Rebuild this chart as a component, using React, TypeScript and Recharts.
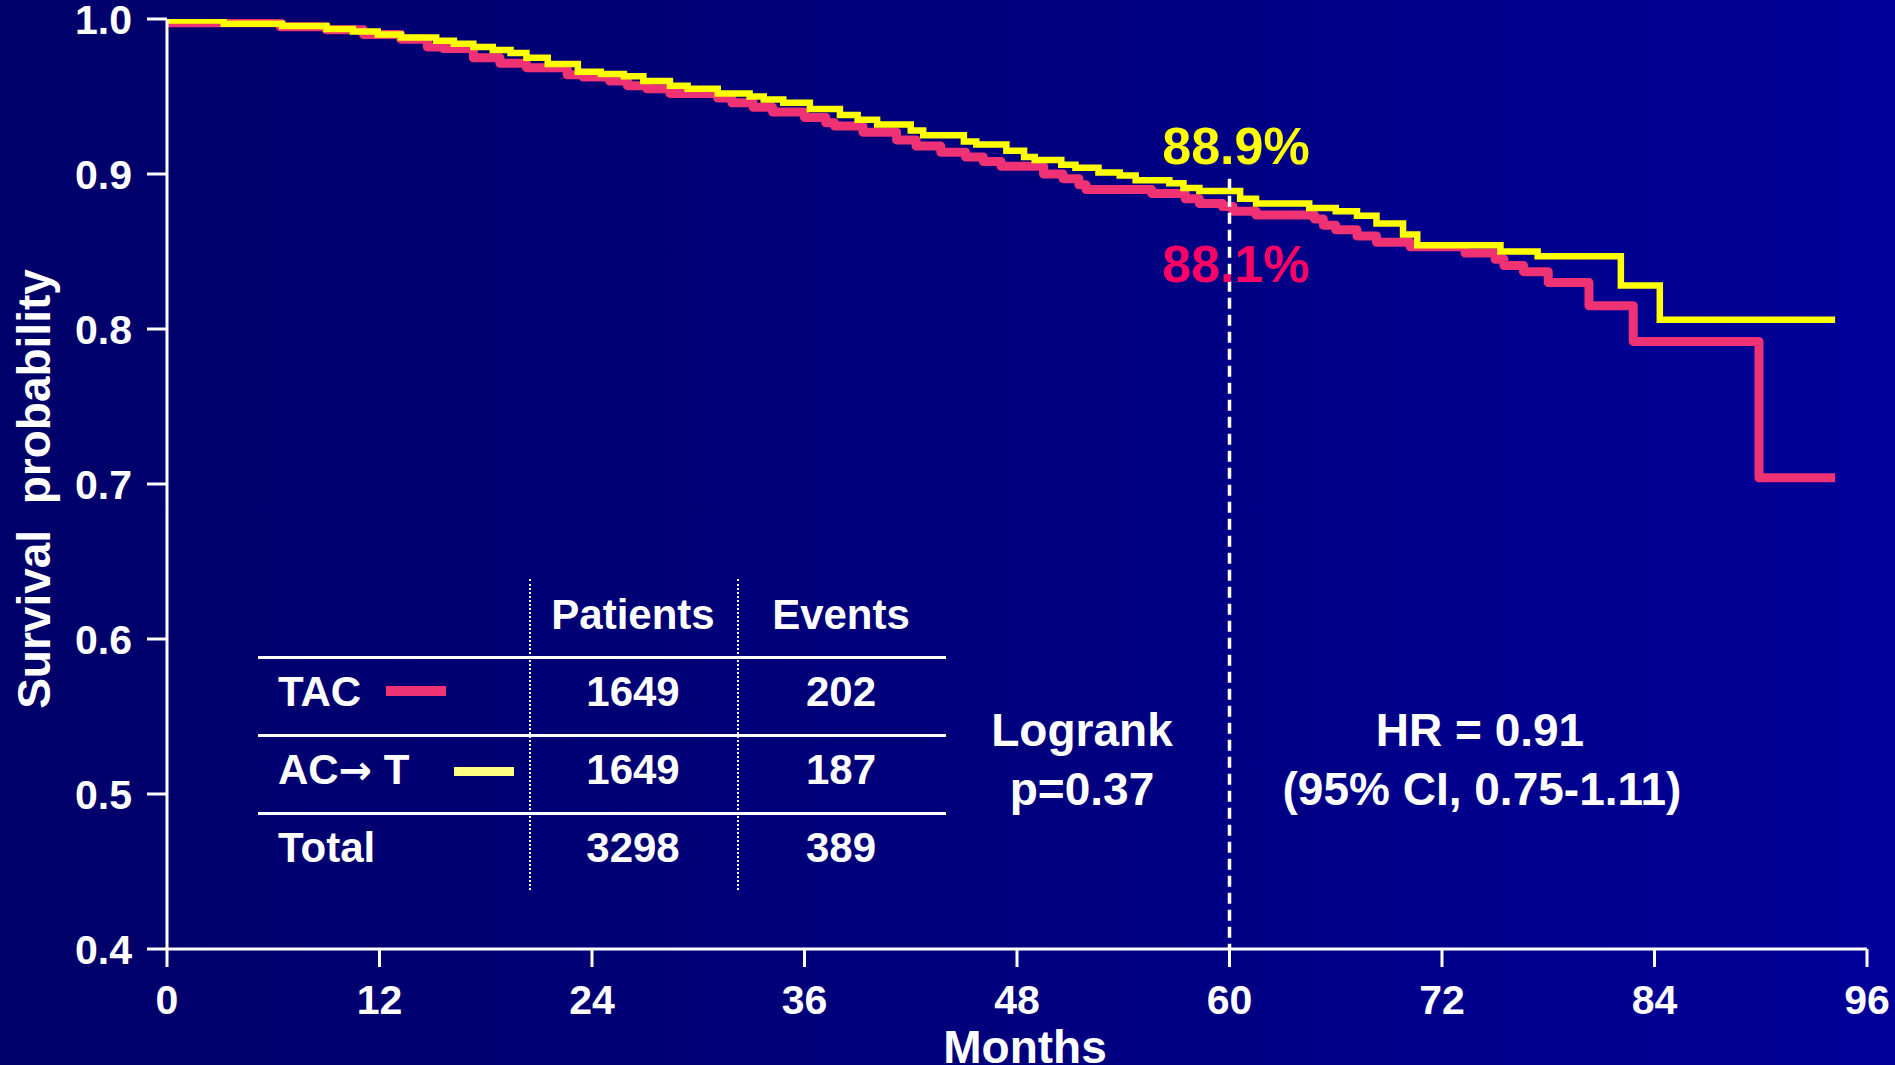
import React from 'react';
import { LineChart, Line, XAxis, YAxis, ReferenceLine } from 'recharts';

// Kaplan-Meier steps: [month, survival]
const tacSteps: [number, number][] = [
  [0, 0.9976], [6.4, 0.995], [9.0, 0.993], [11.1, 0.99], [13.2, 0.987], [14.7, 0.982],
  [15.6, 0.981], [17.3, 0.975], [18.8, 0.9714], [20.3, 0.9686], [22.6, 0.964], [23.5, 0.9626],
  [25.0, 0.96], [26.0, 0.957], [27.1, 0.955], [28.4, 0.952], [31.1, 0.949], [31.9, 0.946],
  [33.1, 0.943], [34.2, 0.94], [36.0, 0.9365], [37.2, 0.933], [37.7, 0.931], [39.3, 0.927],
  [41.2, 0.922], [42.3, 0.918], [43.7, 0.914], [45.1, 0.911], [46.1, 0.908], [47.1, 0.905],
  [49.5, 0.9], [50.6, 0.897], [51.5, 0.893], [51.9, 0.89], [55.6, 0.8875], [57.5, 0.884],
  [58.3, 0.881], [59.6, 0.879], [60.2, 0.876], [61.5, 0.8735], [64.8, 0.871], [65.3, 0.867],
  [66.0, 0.864], [67.2, 0.86], [68.3, 0.856], [70.2, 0.853], [73.3, 0.849], [75.0, 0.845],
  [75.5, 0.841], [76.6, 0.837], [78.0, 0.83], [80.3, 0.815], [82.8, 0.792], [89.9, 0.704],
  [94.2, 0.704],
];

const actSteps: [number, number][] = [
  [0, 0.999], [3.2, 0.997], [6.5, 0.9955], [9.0, 0.9935], [10.5, 0.992], [11.9, 0.99],
  [13.2, 0.988], [15.2, 0.986], [16.2, 0.984], [17.3, 0.982], [18.4, 0.98], [19.4, 0.978],
  [20.3, 0.975], [21.5, 0.971], [23.2, 0.966], [24.5, 0.9645], [25.8, 0.963], [26.9, 0.96],
  [28.4, 0.957], [29.4, 0.955], [31.1, 0.952], [32.9, 0.95], [33.7, 0.948], [34.8, 0.946],
  [36.3, 0.942], [38.0, 0.938], [39.0, 0.935], [40.1, 0.932], [42.0, 0.928], [42.7, 0.925],
  [45.0, 0.921], [45.7, 0.919], [47.4, 0.915], [48.4, 0.911], [49.0, 0.909], [50.5, 0.906],
  [51.3, 0.904], [52.6, 0.901], [53.8, 0.899], [54.7, 0.896], [56.6, 0.894], [57.4, 0.891],
  [58.3, 0.889], [60.6, 0.884], [61.5, 0.881], [64.5, 0.878], [66.0, 0.876], [67.2, 0.873],
  [68.3, 0.868], [69.8, 0.861], [70.6, 0.854], [75.3, 0.85], [77.4, 0.847], [82.1, 0.828],
  [84.3, 0.806], [94.2, 0.806],
];

const xTicks = [0, 12, 24, 36, 48, 60, 72, 84, 96];
const yTicks = [0.4, 0.5, 0.6, 0.7, 0.8, 0.9, 1.0];

const tableHeader = ['Patients', 'Events'];
const tableRows = [
  { label: 'TAC', patients: 1649, events: 202 },
  { label: 'AC\u2192 T', patients: 1649, events: 187 },
  { label: 'Total', patients: 3298, events: 389 },
];

const RED = '#ee3273';
const YELLOW = '#ffff00';
const FONT = '"Liberation Sans", Arial, sans-serif';

const tacData = tacSteps.map(([m, s]) => ({ m, s }));
const actData = actSteps.map(([m, s]) => ({ m, s }));

const Txt = ({ x, y, size, color = '#fff', left = false, children }: any) => (
  <div
    style={{
      position: 'absolute',
      left: x,
      top: y,
      fontSize: size,
      lineHeight: 1,
      color,
      whiteSpace: 'pre',
      transform: left ? 'translate(0,-50%)' : 'translate(-50%,-50%)',
    }}
  >
    {children}
  </div>
);

// the arrow glyph in Liberation Sans is tiny, take it from DejaVu
const withArrow = (s: string) =>
  s.split('\u2192').map((part, i, arr) => (
    <React.Fragment key={i}>
      {part}
      {i < arr.length - 1 && (
        <span style={{ fontFamily: '"DejaVu Sans", sans-serif', fontSize: '0.95em' }}>{'\u2192'}</span>
      )}
    </React.Fragment>
  ));

export default function App() {
  const tickStyle = { fill: '#fff', fontSize: 41, fontWeight: 'bold', fontFamily: FONT };
  const rowY = [692, 770, 848];
  return (
    <div
      style={{
        position: 'fixed',
        left: 0,
        top: 0,
        width: 1895,
        height: 1065,
        overflow: 'hidden',
        background: 'linear-gradient(90deg, #00006a 0%, #00007c 50%, #000099 100%)',
        fontFamily: FONT,
        fontWeight: 'bold',
        color: '#fff',
      }}
    >
      <LineChart width={1895} height={1065} margin={{ top: 19, right: 28, left: 0, bottom: 0 }}>
        <XAxis
          type="number"
          dataKey="m"
          domain={[0, 96]}
          ticks={xTicks}
          interval={0}
          height={116}
          tickSize={18}
          tickMargin={18}
          tick={tickStyle}
          axisLine={{ stroke: '#fff', strokeWidth: 3 }}
          tickLine={{ stroke: '#fff', strokeWidth: 3 }}
          allowDataOverflow
        />
        <YAxis
          type="number"
          domain={[0.4, 1]}
          ticks={yTicks}
          interval={0}
          width={167}
          tickSize={20}
          tickMargin={15}
          tick={tickStyle}
          tickFormatter={(v: number) => v.toFixed(1)}
          axisLine={{ stroke: '#fff', strokeWidth: 3 }}
          tickLine={{ stroke: '#fff', strokeWidth: 3 }}
          allowDataOverflow
        />
        <Line
          data={tacData}
          dataKey="s"
          type="stepAfter"
          stroke={RED}
          strokeWidth={9}
          strokeLinejoin="round"
          dot={false}
          activeDot={false}
          isAnimationActive={false}
        />
        <Line
          data={actData}
          dataKey="s"
          type="stepAfter"
          stroke={YELLOW}
          strokeWidth={6.5}
          dot={false}
          activeDot={false}
          isAnimationActive={false}
        />
        <ReferenceLine
          segment={[{ x: 60, y: 0.897 }, { x: 60, y: 0.4 }]}
          stroke="#fff"
          strokeWidth={3.5}
          strokeDasharray="11 6"
        />
      </LineChart>

      {/* axis titles */}
      <Txt x={1025} y={1047} size={46}>Months</Txt>
      <div
        style={{
          position: 'absolute',
          left: 34,
          top: 489,
          fontSize: 46,
          lineHeight: 1,
          whiteSpace: 'pre',
          transform: 'translate(-50%,-50%) rotate(-90deg)',
        }}
      >
        Survival  probability
      </div>

      {/* 5-year annotations */}
      <Txt x={1236} y={146} size={52} color={YELLOW}>88.9%</Txt>
      <Txt x={1236} y={264} size={52} color="#ff0066">88.1%</Txt>

      {/* stats */}
      <Txt x={1082} y={730} size={46}>Logrank</Txt>
      <Txt x={1082} y={789} size={46}>p=0.37</Txt>
      <Txt x={1480} y={730} size={46}>HR = 0.91</Txt>
      <Txt x={1482} y={789} size={46}>(95% CI, 0.75-1.11)</Txt>

      {/* legend table */}
      {[657, 735, 813].map((y) => (
        <div key={y} style={{ position: 'absolute', left: 258, top: y - 1.5, width: 688, height: 3, background: '#fff' }} />
      ))}
      {[530, 738].map((x) => (
        <div key={x} style={{ position: 'absolute', left: x - 1, top: 579, height: 311, borderLeft: '2px dotted #fff' }} />
      ))}
      <Txt x={633} y={615} size={42}>{tableHeader[0]}</Txt>
      <Txt x={841} y={615} size={42}>{tableHeader[1]}</Txt>
      {tableRows.map((r, i) => (
        <React.Fragment key={r.label}>
          <Txt x={278} y={rowY[i]} size={42} left>{withArrow(r.label)}</Txt>
          <Txt x={633} y={rowY[i]} size={42}>{String(r.patients)}</Txt>
          <Txt x={841} y={rowY[i]} size={42}>{String(r.events)}</Txt>
        </React.Fragment>
      ))}
      <div style={{ position: 'absolute', left: 386, top: 686, width: 60, height: 10, background: RED }} />
      <div style={{ position: 'absolute', left: 454, top: 767, width: 60, height: 9, background: '#ffff80' }} />
    </div>
  );
}
